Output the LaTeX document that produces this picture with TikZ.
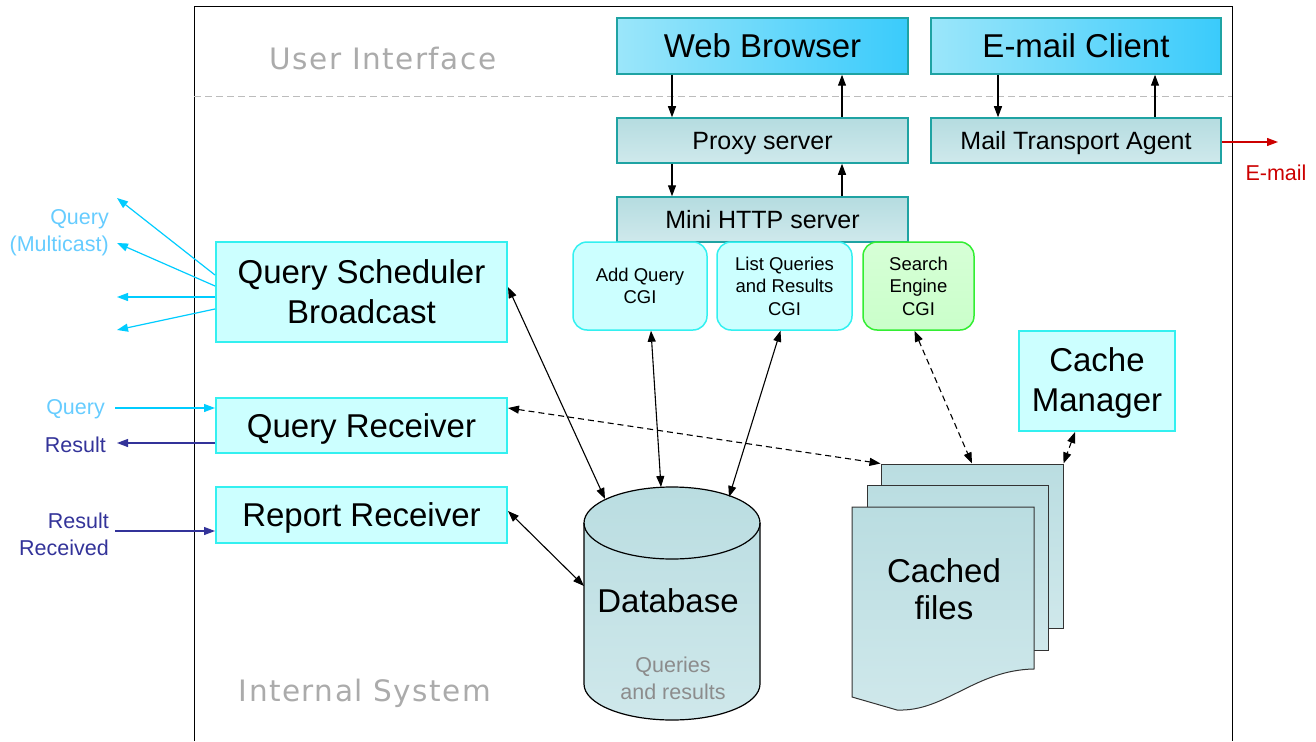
\documentclass[tikz,border=0pt]{standalone}
\usepackage{fontspec}
\setmainfont{Liberation Sans}
\newfontfamily\sectionfont[LetterSpace=5]{DejaVu Sans}
\usetikzlibrary{arrows.meta,calc}

\definecolor{uibluel}{HTML}{9BE6FA}
\definecolor{uiblued}{HTML}{3ACBFB}
\definecolor{tealedge}{HTML}{1FA3A3}
\definecolor{srvtop}{HTML}{B5DCE0}
\definecolor{srvbot}{HTML}{CFE9EC}
\definecolor{paleCyan}{HTML}{CCFFFF}
\definecolor{cyanedge}{HTML}{33F0F0}
\definecolor{paleGreen}{HTML}{CCFFCC}
\definecolor{greenedge}{HTML}{33EE33}
\definecolor{mcast}{HTML}{00CCFF}
\definecolor{mcasttext}{HTML}{66CCFF}
\definecolor{resblue}{HTML}{333399}
\definecolor{mailred}{HTML}{CC0000}
\definecolor{sectiongray}{HTML}{ABABAB}
\definecolor{notegray}{HTML}{8C8C8C}
\definecolor{docedge}{HTML}{333333}
\definecolor{doctop}{HTML}{BADDE1}
\definecolor{docbot}{HTML}{CFE8EB}

\tikzset{
  bigtext/.style={font=\fontsize{33}{40}\selectfont},
  oneline/.style={text height=23.6pt, text depth=0pt},
  uibox/.style={draw=tealedge, line width=1.5pt, left color=uibluel, right color=uiblued,
    minimum width=291pt, minimum height=56pt, inner sep=0pt, bigtext, oneline},
  srvbox/.style={draw=tealedge, line width=1.5pt, top color=srvtop, bottom color=srvbot,
    minimum width=291pt, minimum height=45pt, inner sep=0pt, font=\fontsize{25}{30}\selectfont,
    text height=17.9pt, text depth=0pt},
  compbox/.style={draw=cyanedge, line width=2pt, fill=paleCyan, inner sep=0pt, align=center, bigtext},
  cgibox/.style={draw=cyanedge, line width=1.5pt, fill=paleCyan, rounded corners=14pt,
    minimum height=88pt, inner sep=0pt, align=center, font=\fontsize{18.5}{22.5}\selectfont},
  docpage/.style={draw=docedge, line width=1pt, top color=doctop, bottom color=docbot, inner sep=0pt},
  tip/.style={-{Triangle[length=11pt,width=8pt]}},
  bitip/.style={{Triangle[length=11pt,width=8pt]}-{Triangle[length=11pt,width=8pt]}},
  link/.style={line width=1.1pt, black},
  dlink/.style={line width=1.1pt, black, dash pattern=on 6pt off 4pt},
  sidetext/.style={font=\fontsize{21.5}{27}\selectfont, anchor=east, align=right, inner sep=0pt},
  section/.style={font=\sectionfont\fontsize{29.5}{34}\selectfont, text=sectiongray, inner sep=0pt},
}

\begin{document}
\begin{tikzpicture}[x=1pt, y=-1pt]
\useasboundingbox (0,0) rectangle (1316,741);

% system frame and the user-interface boundary
\draw[line width=1pt] (194,741) -- (194,7) -- (1232,7) -- (1232,741);
\draw[sectiongray!80, line width=1pt, dash pattern=on 7pt off 4pt] (194,97) -- (1232,97);
\node[section] (uilabel) at (383,59) {User Interface};
\node[section] (islabel) at (365,693) {Internal System};

% user interface
\node[uibox] (wb) at (762.5,46) {Web Browser};
\node[uibox, minimum width=290pt] (ec) at (1076,46) {E-mail Client};

% servers
\node[srvbox] (px) at (762.5,140.5) {Proxy server};
\node[srvbox, minimum width=290pt] (mta) at (1076,140.5) {Mail Transport Agent};
\node[srvbox] (mini) at (762.5,219.5) {Mini HTTP server};

\draw[link, tip] ([xshift=-90.5pt]wb.south) -- ([xshift=-90.5pt]px.north);
\draw[link, tip] ([xshift=79.5pt]px.north) -- ([xshift=79.5pt]wb.south);
\draw[link, tip] ([xshift=-90.5pt]px.south) -- ([xshift=-90.5pt]mini.north);
\draw[link, tip] ([xshift=79.5pt]mini.north) -- ([xshift=79.5pt]px.south);
\draw[link, tip] ([xshift=-78pt]ec.south) -- ([xshift=-78pt]mta.north);
\draw[link, tip] ([xshift=79pt]mta.north) -- ([xshift=79pt]ec.south);

\coordinate (mailout) at (1278,142);
\draw[mailred, line width=1.2pt, tip] ([yshift=-1.5pt]mta.east) -- (mailout);
\node[font=\fontsize{21.5}{26}\selectfont, text=mailred, inner sep=0pt] (maillabel) at (1276,173) {E-mail};

% CGI programs
\node[cgibox, minimum width=134pt] (aq) at (640,286) {Add Query\\CGI};
\node[cgibox, minimum width=135pt] (lq) at (784.5,286) {List Queries\\and Results\\CGI};
\node[cgibox, minimum width=111pt, draw=greenedge, fill=none, top color=paleGreen!80, bottom color=paleGreen!60!green!40] (se) at (918.5,286) {Search\\Engine\\CGI};

% internal components
\node[compbox, minimum width=291pt, minimum height=100pt] (qsb) at (361.5,292) {Query Scheduler\\Broadcast};
\node[compbox, oneline, minimum width=291pt, minimum height=55pt] (qr) at (361.5,425.5) {Query Receiver};
\node[compbox, oneline, minimum width=291pt, minimum height=56pt] (rr) at (361.5,515) {Report Receiver};
\node[compbox, minimum width=156pt, minimum height=100pt] (cm) at (1097,381) {\rule{0pt}{28pt}Cache\\Manager};

% multicast query fan-out
\coordinate (mc1) at (117,198);
\coordinate (mc2) at (117,243);
\coordinate (mc3) at (117,297);
\coordinate (mc4) at (117,330);
\draw[mcast, line width=1.2pt, tip] ([yshift=17pt]qsb.west) -- (mc1);
\draw[mcast, line width=1.2pt, tip] ([yshift=6pt]qsb.west) -- (mc2);
\draw[mcast, line width=1.2pt, tip] ([yshift=-5pt]qsb.west) -- (mc3);
\draw[mcast, line width=1.2pt, tip] ([yshift=-17pt]qsb.west) -- (mc4);
\node[sidetext, text=mcasttext] (mclabel) at (109,233) {Query\\(Multicast)};

% incoming query, outgoing result, reports
\coordinate (qin) at (115,408);
\coordinate (rout) at (117,443);
\coordinate (rin) at (115,531);
\draw[mcast, line width=1.2pt, tip] (qin) -- ([yshift=17.5pt]qr.west);
\draw[resblue, line width=1.2pt, tip] ([yshift=-17.5pt]qr.west) -- (rout);
\draw[resblue, line width=1.2pt, tip] (rin) -- ([yshift=-16pt]rr.west);
\node[sidetext, text=mcasttext] (qinlabel) at (105,409) {Query};
\node[sidetext, text=resblue] (routlabel) at (106,445) {Result};
\node[sidetext, text=resblue] (rinlabel) at (109,534) {Result\\Received};

% database cylinder
\shade[top color=doctop, bottom color=docbot]
  (584,523) -- (584,684) arc[start angle=180, end angle=360, x radius=88pt, y radius=36pt]
  -- (760,523) arc[start angle=0, end angle=180, x radius=88pt, y radius=36pt] -- cycle;
\draw[line width=1.2pt]
  (584,523) -- (584,684) arc[start angle=180, end angle=360, x radius=88pt, y radius=36pt]
  -- (760,523);
\draw[line width=1.2pt] (672,523) ellipse [x radius=88pt, y radius=36pt];
\node[font=\fontsize{33}{40}\selectfont, inner sep=0pt] (db) at (668,601) {Database};
\node[font=\fontsize{21.5}{27}\selectfont, text=notegray, align=center, inner sep=0pt] (dbnote) at (673,678) {Queries\\and results};
\coordinate (dbq) at (605,499);
\coordinate (dba) at (661,487);
\coordinate (dbl) at (729,497);
\coordinate (dbr) at (584,586);

% cached files stack
\node[docpage, minimum width=182pt, minimum height=164pt] (cfback) at (972,546) {};
\node[docpage, minimum width=181pt, minimum height=165pt] (cfmid) at (957.5,567.5) {};
\shade[top color=doctop, bottom color=docbot]
  (852,507) -- (1034,507) -- (1034,669) .. controls (975,670) and (945,712) .. (897,710) -- (852,697) -- cycle;
\draw[docedge, line width=1pt]
  (852,507) -- (1034,507) -- (1034,669) .. controls (975,670) and (945,712) .. (897,710) -- (852,697) -- cycle;
\node[font=\fontsize{33}{37}\selectfont, align=center, inner sep=0pt] (cf) at (944,589) {Cached\\files};

% database links
\draw[link, bitip] ([yshift=5pt]qsb.east) -- (dbq);
\draw[link, bitip] ([xshift=11pt]aq.south) -- (dba);
\draw[link, bitip] ([xshift=-4pt]lq.south) -- (dbl);
\draw[link, bitip] ([yshift=4pt]rr.east) -- (dbr);

% cache links
\draw[dlink, bitip] ([yshift=17.5pt]qr.east) -- (cfback.north west);
\draw[dlink, bitip] ([xshift=-4pt]se.south) -- (cfback.north);
\draw[dlink, bitip] ([xshift=-22pt]cm.south) -- (cfback.north east);
\end{tikzpicture}
\end{document}
